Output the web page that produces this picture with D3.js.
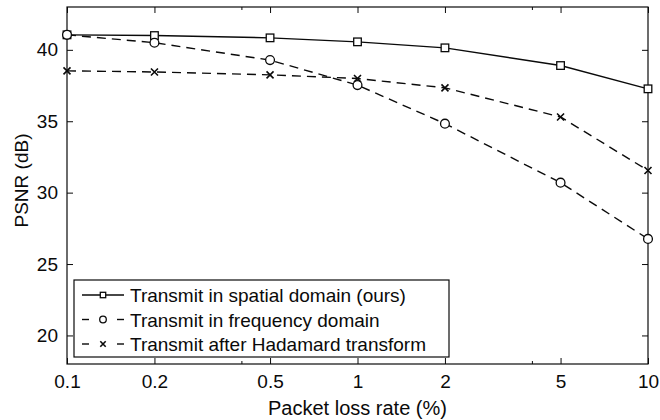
<!DOCTYPE html>
<html>
<head>
<meta charset="utf-8">
<script src="https://cdn.jsdelivr.net/npm/d3@7"></script>
<style>
  html, body { margin: 0; padding: 0; background: #fff; }
  svg { display: block; font-family: "Liberation Sans", Arial, Helvetica, sans-serif; }
</style>
</head>
<body>
<svg id="chart" width="660" height="420"></svg>
<script>
// Packet loss rates (%) and PSNR (dB) for each transmission scheme
const lossRates = [0.1, 0.2, 0.5, 1, 2, 5, 10];
const spatialPSNR = [41.05, 41.0, 40.84, 40.56, 40.14, 38.9, 37.27];
const frequencyPSNR = [41.05, 40.5, 39.28, 37.53, 34.83, 30.7, 26.76];
const hadamardPSNR = [38.53, 38.45, 38.25, 37.99, 37.34, 35.3, 31.55];

const seriesNames = [
  "Transmit in spatial domain (ours)",
  "Transmit in frequency domain",
  "Transmit after Hadamard transform"
];
const xTickValues = [0.1, 0.2, 0.5, 1, 2, 5, 10];
const xTickLabels = ["0.1", "0.2", "0.5", "1", "2", "5", "10"];
const xMinorTicks = [0.4, 4];
const yTickValues = [20, 25, 30, 35, 40];
const xTitle = "Packet loss rate (%)";
const yTitle = "PSNR (dB)";

const series = [
  { name: seriesNames[0], values: spatialPSNR, marker: "square", dash: null },
  { name: seriesNames[1], values: frequencyPSNR, marker: "circle", dash: "9,6" },
  { name: seriesNames[2], values: hadamardPSNR, marker: "cross", dash: "9,6" }
];

const svg = d3.select("#chart");
const plotLeft = 67, plotRight = 648, plotTop = 7, plotBottom = 364;
const ink = "#0a0a0a";

const x = d3.scaleLog().domain([0.1, 10]).range([plotLeft, plotRight]);
const y = d3.scaleLinear().domain([18, 43]).range([plotBottom, plotTop]);

const fontSize = 19;

// Axis tick marks point inward on all four sides
const tickLen = 6;
const axisBottom = d3.axisBottom(x).tickValues(xTickValues).tickFormat((d, i) => xTickLabels[i])
  .tickSizeInner(-tickLen).tickSizeOuter(0).tickPadding(11);
const gx = svg.append("g").attr("transform", `translate(0,${plotBottom})`).call(axisBottom);
gx.select(".domain").remove();
gx.selectAll("line").attr("stroke", ink);
gx.selectAll("text").attr("font-size", fontSize).attr("fill", ink);
gx.attr("font-family", null);

const axisTop = d3.axisTop(x).tickValues(xTickValues).tickFormat("").tickSizeInner(-tickLen).tickSizeOuter(0);
const gxt = svg.append("g").attr("transform", `translate(0,${plotTop})`).call(axisTop);
gxt.select(".domain").remove();
gxt.selectAll("line").attr("stroke", ink);

// Short minor ticks
[plotBottom, plotTop].forEach((yy, k) => {
  svg.append("g").selectAll("line").data(xMinorTicks).join("line")
    .attr("x1", d => x(d)).attr("x2", d => x(d))
    .attr("y1", yy).attr("y2", k === 0 ? yy - 3 : yy + 3)
    .attr("stroke", ink);
});

const axisLeft = d3.axisLeft(y).tickValues(yTickValues).tickSizeInner(-tickLen).tickSizeOuter(0).tickPadding(9);
const gy = svg.append("g").attr("transform", `translate(${plotLeft},0)`).call(axisLeft);
gy.select(".domain").remove();
gy.selectAll("line").attr("stroke", ink);
gy.selectAll("text").attr("font-size", fontSize).attr("fill", ink);
gy.attr("font-family", null);

const axisRight = d3.axisRight(y).tickValues(yTickValues).tickFormat("").tickSizeInner(-tickLen).tickSizeOuter(0);
const gyr = svg.append("g").attr("transform", `translate(${plotRight},0)`).call(axisRight);
gyr.select(".domain").remove();
gyr.selectAll("line").attr("stroke", ink);

// Plot frame
svg.append("rect")
  .attr("x", plotLeft).attr("y", plotTop)
  .attr("width", plotRight - plotLeft).attr("height", plotBottom - plotTop)
  .attr("fill", "none").attr("stroke", ink).attr("stroke-width", 1.2);

// Axis titles
svg.append("text")
  .attr("x", (plotLeft + plotRight) / 2).attr("y", 415)
  .attr("text-anchor", "middle").attr("font-size", 20).attr("fill", ink)
  .text(xTitle);
svg.append("text")
  .attr("transform", `translate(28,${(plotTop + plotBottom) / 2 - 5}) rotate(-90)`)
  .attr("text-anchor", "middle").attr("font-size", fontSize).attr("fill", ink)
  .text(yTitle);

// Marker drawing helper
function drawMarker(g, type, cx, cy, s) {
  if (type === "square") {
    g.append("rect").attr("x", cx - s).attr("y", cy - s).attr("width", 2 * s).attr("height", 2 * s)
      .attr("fill", "#fff").attr("stroke", ink).attr("stroke-width", 1.3);
  } else if (type === "circle") {
    g.append("circle").attr("cx", cx).attr("cy", cy).attr("r", s + 0.6)
      .attr("fill", "#fff").attr("stroke", ink).attr("stroke-width", 1.3);
  } else {
    g.append("path")
      .attr("d", `M${cx - s},${cy - s}L${cx + s},${cy + s}M${cx - s},${cy + s}L${cx + s},${cy - s}`)
      .attr("stroke", ink).attr("stroke-width", 1.6).attr("fill", "none");
  }
}

const line = d3.line().x(d => x(d[0])).y(d => y(d[1]));

series.forEach(s => {
  const pts = lossRates.map((r, i) => [r, s.values[i]]);
  svg.append("path")
    .attr("d", line(pts))
    .attr("fill", "none").attr("stroke", ink).attr("stroke-width", 1.4)
    .attr("stroke-dasharray", s.dash);
  const g = svg.append("g");
  pts.forEach(p => drawMarker(g, s.marker, x(p[0]), y(p[1]), s.marker === "cross" ? 3.5 : 3.8));
});

// Legend
const lg = svg.append("g");
lg.append("rect").attr("x", 74).attr("y", 280).attr("width", 375).attr("height", 77)
  .attr("fill", "#fff").attr("stroke", ink).attr("stroke-width", 1.2);
series.forEach((s, i) => {
  const cy = 295 + i * 24.5;
  if (s.dash) {
    lg.append("line").attr("x1", 82).attr("x2", 89).attr("y1", cy).attr("y2", cy).attr("stroke", ink).attr("stroke-width", 1.4);
    lg.append("line").attr("x1", 117).attr("x2", 124).attr("y1", cy).attr("y2", cy).attr("stroke", ink).attr("stroke-width", 1.4);
  } else {
    lg.append("line").attr("x1", 82).attr("x2", 124).attr("y1", cy).attr("y2", cy).attr("stroke", ink).attr("stroke-width", 1.4);
  }
  drawMarker(lg, s.marker, 103, cy, 2.7);
  lg.append("text").attr("x", 130).attr("y", cy + 7)
    .attr("font-size", 19).attr("fill", ink).text(s.name);
});
</script>
</body>
</html>
